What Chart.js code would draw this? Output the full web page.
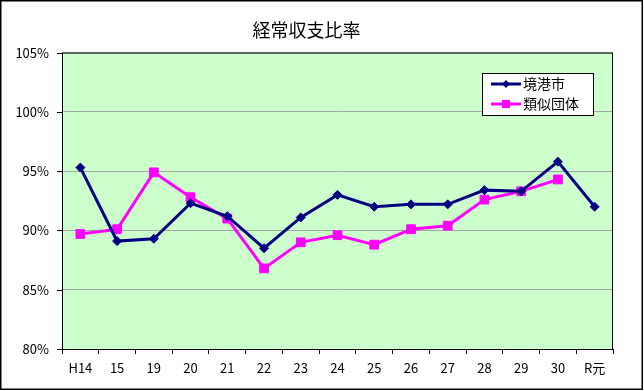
<!DOCTYPE html>
<html>
<head>
<meta charset="utf-8">
<script src="https://cdn.jsdelivr.net/npm/chart.js@4"></script>
<style>
  body { margin: 0; background: #fff; }
  #wrap { width: 644px; height: 391px; }
</style>
</head>
<body>
<div id="wrap"><canvas id="chart" width="644" height="391"></canvas></div>
<script>
const years = ['H14', '15', '19', '20', '21', '22', '23', '24', '25', '26', '27', '28', '29', '30', 'R元'];
const sakaiminato = [95.3, 89.1, 89.3, 92.3, 91.2, 88.5, 91.1, 93.0, 92.0, 92.2, 92.2, 93.4, 93.3, 95.8, 92.0];
const ruiji = [89.7, 90.1, 94.9, 92.8, 91.0, 86.8, 89.0, 89.6, 88.8, 90.1, 90.4, 92.6, 93.3, 94.3, null];
const yTicks = [80, 85, 90, 95, 100, 105];

const fontName = '"Noto Sans CJK JP", "Liberation Sans", sans-serif';

// plot background, plot border, outer frame, legend box
const decor = {
    id: 'decor',
    beforeDraw(chart) {
        const { ctx, chartArea: a } = chart;
        ctx.save();
        ctx.fillStyle = '#ccffcc';
        ctx.fillRect(a.left, a.top, a.right - a.left, a.bottom - a.top);
        ctx.restore();
    },
    beforeDatasetsDraw(chart) {
        const { ctx, chartArea: a } = chart;
        ctx.save();
        ctx.strokeStyle = '#000';
        ctx.lineWidth = 1;
        ctx.strokeRect(a.left + 0.5, a.top + 0.5, a.right - a.left - 1, a.bottom - a.top);
        // y tick marks
        chart.scales.y.ticks.forEach(t => {
            const py = Math.round(chart.scales.y.getPixelForValue(t.value)) + 0.5;
            ctx.beginPath();
            ctx.moveTo(a.left - 5, py);
            ctx.lineTo(a.left, py);
            ctx.stroke();
        });
        ctx.restore();
    },
    afterDraw(chart) {
        const { ctx } = chart;
        ctx.save();
        ctx.strokeStyle = '#000';
        ctx.lineWidth = 1.5;
        ctx.strokeRect(0.75, 0.75, 641.5, 388.5);

        // legend
        const x = 482, y = 73, w = 111, h = 42;
        ctx.fillStyle = '#fff';
        ctx.fillRect(x, y, w, h);
        ctx.lineWidth = 1;
        ctx.strokeRect(x + 0.5, y + 0.5, w, h);
        chart.data.datasets.forEach((ds, i) => {
            const cy = y + 11 + i * 20;
            ctx.strokeStyle = ds.borderColor;
            ctx.lineWidth = 3;
            ctx.beginPath();
            ctx.moveTo(x + 9, cy);
            ctx.lineTo(x + 39, cy);
            ctx.stroke();
            ctx.fillStyle = ds.borderColor;
            ctx.beginPath();
            if (ds.pointStyle === 'rect') {
                ctx.fillRect(x + 20, cy - 4, 8, 8);
            } else {
                ctx.moveTo(x + 24, cy - 4);
                ctx.lineTo(x + 28, cy);
                ctx.lineTo(x + 24, cy + 4);
                ctx.lineTo(x + 20, cy);
                ctx.closePath();
                ctx.fill();
            }
            ctx.fillStyle = '#000';
            ctx.font = '14px ' + fontName;
            ctx.textBaseline = 'middle';
            ctx.fillText(ds.label, x + 41, cy);
        });
        ctx.restore();
    }
};

new Chart(document.getElementById('chart'), {
    type: 'line',
    data: {
        labels: years,
        datasets: [
            {
                label: '境港市',
                data: sakaiminato,
                borderColor: '#000080',
                backgroundColor: '#000080',
                borderWidth: 3,
                pointStyle: 'rectRot',
                pointRadius: 4.5,
                pointBorderWidth: 1,
                tension: 0
            },
            {
                label: '類似団体',
                data: ruiji,
                borderColor: '#ff00ff',
                backgroundColor: '#ff00ff',
                borderWidth: 3,
                pointStyle: 'rect',
                pointRadius: 6.2,
                pointBorderWidth: 1,
                tension: 0
            }
        ]
    },
    options: {
        responsive: false,
        animation: false,
        layout: { padding: { left: 0, right: 31, top: 0, bottom: 0 } },
        plugins: {
            legend: { display: false },
            tooltip: { enabled: false },
            title: {
                display: true,
                text: '経常収支比率',
                color: '#000',
                font: { family: fontName, size: 18, weight: 'normal' },
                padding: { top: 19, bottom: 12 }
            }
        },
        scales: {
            x: {
                offset: true,
                grid: {
                    offset: true,
                    drawOnChartArea: false,
                    drawTicks: true,
                    tickLength: 5,
                    color: '#000'
                },
                border: { display: false },
                ticks: {
                    color: '#000',
                    padding: 6,
                    maxRotation: 0,
                    autoSkip: false,
                    font: { family: fontName, size: 13 }
                },
                afterFit(scale) { scale.height = 42; }
            },
            y: {
                min: 80,
                max: 105,
                afterBuildTicks(scale) { scale.ticks = yTicks.map(v => ({ value: v })); },
                grid: {
                    color: '#a0a8a0',
                    drawTicks: false
                },
                border: { display: false },
                ticks: {
                    color: '#000',
                    padding: 13,
                    font: { family: fontName, size: 13 },
                    callback: v => v + '%'
                },
                afterFit(scale) { scale.width = 62; }
            }
        }
    },
    plugins: [decor]
});
</script>
</body>
</html>
